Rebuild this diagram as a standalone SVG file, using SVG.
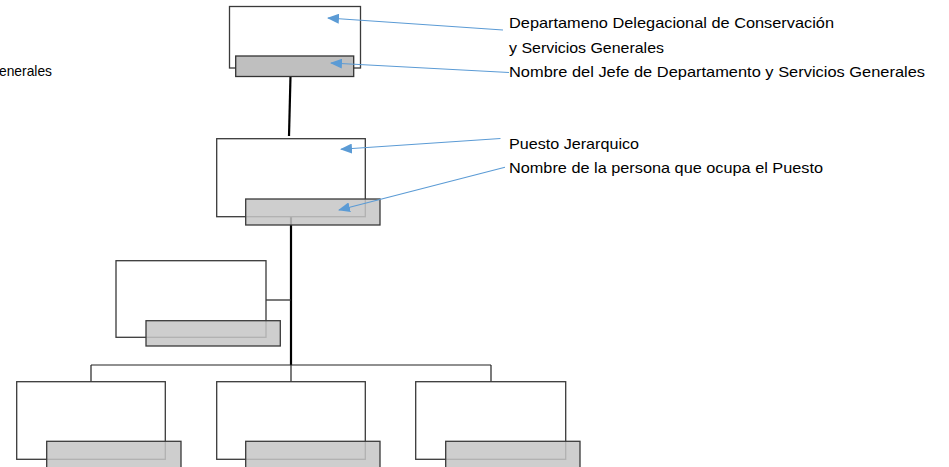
<svg xmlns="http://www.w3.org/2000/svg" width="949" height="467" viewBox="0 0 949 467">
<style>
.box{fill:#fff;stroke:#3a3a3a;stroke-width:1.3}
.gtop{fill:#bfbfbf;stroke:#333;stroke-width:1.3}
.g{fill:#c6c6c6;fill-opacity:0.85;stroke:#3a3a3a;stroke-width:1.3}
.c{stroke:#222;stroke-width:1.2;fill:none}
.trunk{stroke:#000;stroke-width:2.2;fill:none}
.ann{stroke:#5b9bd5;stroke-width:1.1;fill:none;marker-end:url(#ah)}
text{font-family:"Liberation Sans",Arial,sans-serif;font-size:15px;fill:#000}
</style>
<defs>
<marker id="ah" markerWidth="12" markerHeight="10" refX="11" refY="5" orient="auto" markerUnits="userSpaceOnUse">
<path d="M0,0 L12,5 L0,10 Z" fill="#5b9bd5"/>
</marker>
</defs>
<g id="connectors">
<line class="trunk" x1="290.5" y1="76" x2="289" y2="136"/>
<line class="trunk" x1="291" y1="217" x2="291" y2="365"/>
<line class="c" x1="266" y1="300" x2="291" y2="300"/>
<line class="c" x1="91" y1="365" x2="491" y2="365"/>
<line class="c" x1="91" y1="365" x2="91" y2="382"/>
<line class="c" x1="291" y1="365" x2="291" y2="382"/>
<line class="c" x1="491" y1="365" x2="491" y2="382"/>
</g>
<g id="node-top">
<rect class="box" x="229.5" y="6.5" width="131" height="61.5"/>
<rect class="gtop" x="235.7" y="56" width="118" height="20.5"/>
</g>
<g id="node-puesto">
<rect class="box" x="216.7" y="138.7" width="148.6" height="78"/>
<rect class="g" x="245.7" y="199" width="134.3" height="26"/>
</g>
<g id="node-left">
<rect class="box" x="116" y="260.7" width="150" height="76.6"/>
<rect class="g" x="146" y="320.7" width="134.3" height="25.3"/>
</g>
<g id="node-b1">
<rect class="box" x="16.7" y="381.7" width="148.6" height="77.6"/>
<rect class="g" x="46.7" y="441.3" width="134.3" height="26.5"/>
</g>
<g id="node-b2">
<rect class="box" x="216.7" y="381.7" width="148.6" height="77.6"/>
<rect class="g" x="245.7" y="441.3" width="134.3" height="26.5"/>
</g>
<g id="node-b3">
<rect class="box" x="415.7" y="381.7" width="150" height="77.6"/>
<rect class="g" x="445.7" y="441.3" width="134.3" height="26.5"/>
</g>
<g id="annotations">
<line class="ann" x1="503" y1="30" x2="328" y2="18"/>
<line class="ann" x1="509" y1="72.5" x2="331" y2="63"/>
<line class="ann" x1="500.5" y1="138.5" x2="341" y2="149.3"/>
<line class="ann" x1="505" y1="167.3" x2="339" y2="210"/>
<text x="509" y="28" textLength="325" lengthAdjust="spacingAndGlyphs">Departameno Delegacional de Conservación</text>
<text x="509" y="52.5" textLength="155" lengthAdjust="spacingAndGlyphs">y Servicios Generales</text>
<text x="509" y="77" textLength="416" lengthAdjust="spacingAndGlyphs">Nombre del Jefe de Departamento y Servicios Generales</text>
<text x="509" y="149" textLength="130" lengthAdjust="spacingAndGlyphs">Puesto Jerarquico</text>
<text x="509" y="173" textLength="314" lengthAdjust="spacingAndGlyphs">Nombre de la persona que ocupa el Puesto</text>
<text x="-1" y="76" textLength="53" lengthAdjust="spacingAndGlyphs">enerales</text>
</g>
</svg>
